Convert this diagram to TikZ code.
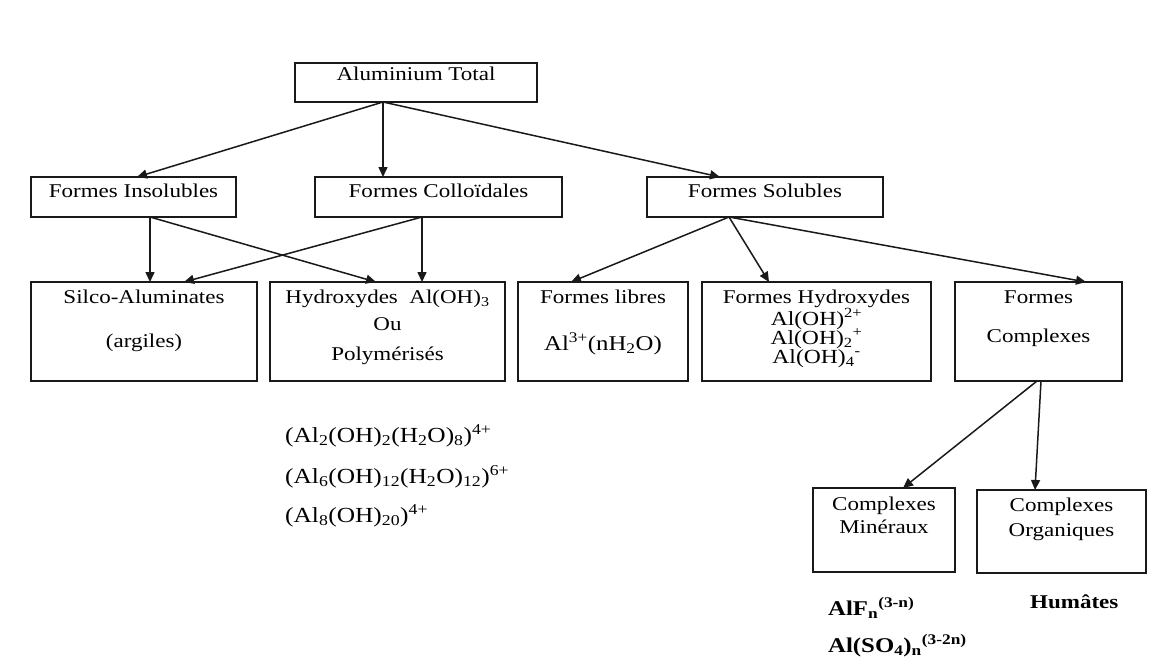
\documentclass[tikz,border=0pt]{standalone}
\usepackage{fontspec}
\setmainfont{Liberation Serif}[FakeStretch=1.18]
\usetikzlibrary{arrows.meta,calc}
\begin{document}
\begin{tikzpicture}[x=1pt,y=-1pt,
  box/.style={draw=black!90,line width=1.6pt,inner sep=0pt,outer sep=0pt},
  arr/.style={draw=black!90,line width=1.5pt,-{Triangle[length=10pt,width=9pt]}},
  lbl/.style={inner sep=0pt,text height=0.7em,text depth=0.2em,font=\fontsize{19.5}{22}\selectfont},
  fml/.style={lbl,font=\fontsize{20}{23}\selectfont},
  big/.style={lbl,anchor=west,font=\fontsize{21.5}{25}\selectfont},
  bold/.style={lbl,anchor=west,font=\fontsize{21}{25}\selectfont\bfseries},
]
\useasboundingbox[fill=white] (0,0) rectangle (1156,669);

% boxes
\node[box,minimum width=242pt,minimum height=39pt] (at) at (416,82.5) {};
\node[box,minimum width=205pt,minimum height=40pt] (ins) at (133.5,197) {};
\node[box,minimum width=247pt,minimum height=40pt] (col) at (438.5,197) {};
\node[box,minimum width=236pt,minimum height=40pt] (sol) at (765,197) {};
\node[box,minimum width=226pt,minimum height=99pt] (sil) at (144,331.5) {};
\node[box,minimum width=235pt,minimum height=99pt] (hyd) at (387.5,331.5) {};
\node[box,minimum width=170pt,minimum height=99pt] (lib) at (603,331.5) {};
\node[box,minimum width=229pt,minimum height=99pt] (fhy) at (816.5,331.5) {};
\node[box,minimum width=167pt,minimum height=99pt] (fco) at (1038.5,331.5) {};
\node[box,minimum width=142pt,minimum height=84pt] (min) at (884,530) {};
\node[box,minimum width=169pt,minimum height=83pt] (org) at (1061.5,531.5) {};

% box texts
\node[lbl] (atT) at (416,78) {Aluminium Total};
\node[lbl] (insT) at (133.5,195) {Formes Insolubles};
\node[lbl] (colT) at (438.5,195) {Formes Colloïdales};
\node[lbl] (solT) at (765,195) {Formes Solubles};
\node[lbl] (silT1) at (144,301) {Silco-Aluminates};
\node[lbl] (silT2) at (144,345) {(argiles)};
\node[lbl] (hydT1) at (387.5,301) {Hydroxydes\ \ Al(OH)\textsubscript{3}};
\node[lbl] (hydT2) at (387.5,328) {Ou};
\node[lbl] (hydT3) at (387.5,358) {Polymérisés};
\node[lbl] (libT1) at (603,301) {Formes libres};
\node[fml,font=\fontsize{21}{24}\selectfont] (libT2) at (603,348) {Al\textsuperscript{3+}(nH\textsubscript{2}O)};
\node[lbl] (fhyT1) at (816.5,301) {Formes Hydroxydes};
\node[fml] (fhyT2) at (816.5,323) {Al(OH)\textsuperscript{2+}};
\node[fml] (fhyT3) at (816.5,342) {Al(OH)\textsubscript{2}\textsuperscript{+}};
\node[fml] (fhyT4) at (816.5,361) {Al(OH)\textsubscript{4}\textsuperscript{-}};
\node[lbl] (fcoT1) at (1038.5,301) {Formes};
\node[lbl] (fcoT2) at (1038.5,340) {Complexes};
\node[lbl] (minT1) at (884,508) {Complexes};
\node[lbl] (minT2) at (884,531) {Minéraux};
\node[lbl] (orgT1) at (1061.5,509) {Complexes};
\node[lbl] (orgT2) at (1061.5,534) {Organiques};

% free formulas
\node[big] (p1) at (285,440) {(Al\textsubscript{2}(OH)\textsubscript{2}(H\textsubscript{2}O)\textsubscript{8})\textsuperscript{4+}};
\node[big] (p2) at (285,481) {(Al\textsubscript{6}(OH)\textsubscript{12}(H\textsubscript{2}O)\textsubscript{12})\textsuperscript{6+}};
\node[big] (p3) at (285,520) {(Al\textsubscript{8}(OH)\textsubscript{20})\textsuperscript{4+}};
\node[bold] (alf) at (828,613) {AlF\textsubscript{n}\textsuperscript{(3-n)}};
\node[bold] (also) at (828,650) {Al(SO\textsubscript{4})\textsubscript{n}\textsuperscript{(3-2n)}};
\node[bold,font=\fontsize{19.5}{22}\selectfont\bfseries] (hum) at (1030,606) {Humâtes};

% arrows
\draw[arr] ([xshift=-33pt]at.south) -- ([xshift=3.5pt]ins.north);
\draw[arr] ([xshift=-33pt]at.south) -- ([xshift=-55.5pt]col.north);
\draw[arr] ([xshift=-33pt]at.south) -- ([xshift=-45pt]sol.north);
\draw[arr] ([xshift=16.5pt]ins.south) -- ([xshift=6pt]sil.north);
\draw[arr] ([xshift=16.5pt]ins.south) -- ([xshift=-11.5pt]hyd.north);
\draw[arr] ([xshift=-16.5pt]col.south) -- ([xshift=40pt]sil.north);
\draw[arr] ([xshift=-16.5pt]col.south) -- ([xshift=34.5pt]hyd.north);
\draw[arr] ([xshift=-36pt]sol.south) -- ([xshift=-32pt]lib.north);
\draw[arr] ([xshift=-36pt]sol.south) -- ([xshift=-47.5pt]fhy.north);
\draw[arr] ([xshift=-36pt]sol.south) -- ([xshift=47.5pt]fco.north);
\draw[arr] ([xshift=-1.5pt]fco.south) -- ([xshift=19pt]min.north);
\draw[arr] ([xshift=2.5pt]fco.south) -- ([xshift=-26.5pt]org.north);
\end{tikzpicture}
\end{document}
